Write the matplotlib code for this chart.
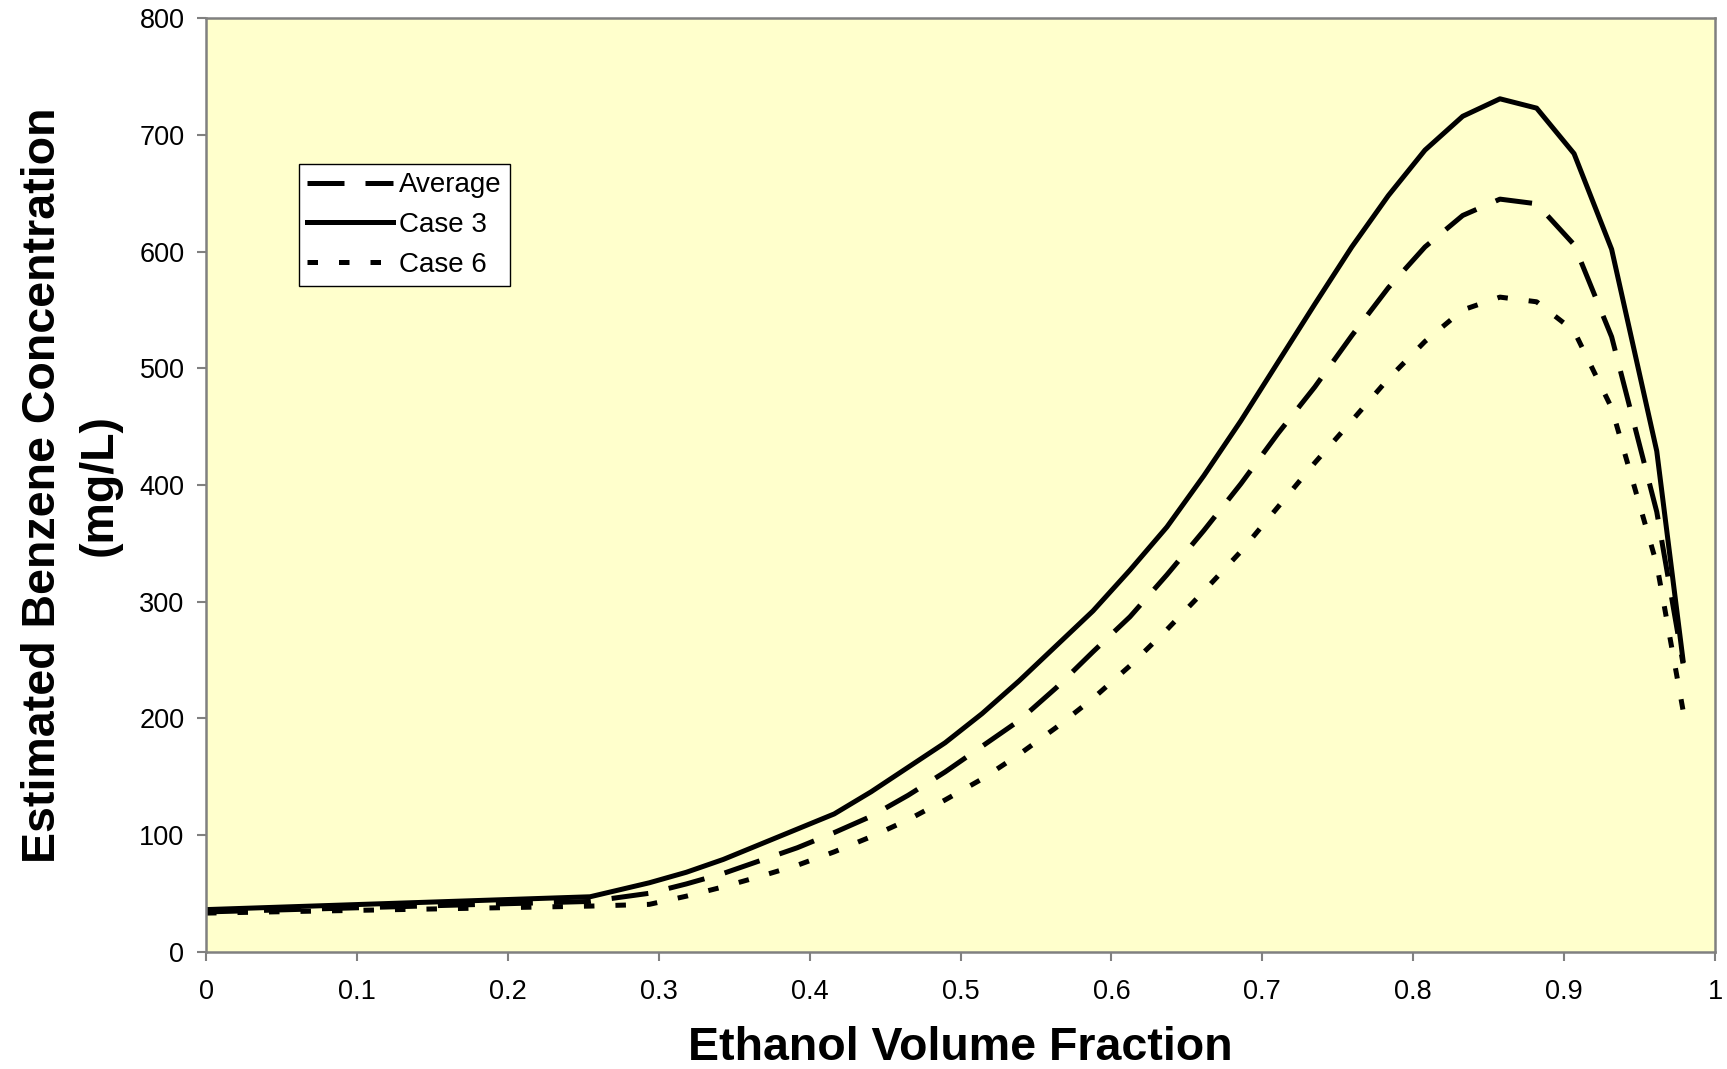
import numpy as np
import matplotlib
matplotlib.use('Agg')
import matplotlib.pyplot as plt

plt.rcParams['font.family'] = ['Liberation Sans', 'DejaVu Sans']

# ethanol volume fraction (x) and estimated benzene concentration (mg/L)
ethanol_frac = [0.0, 0.2545, 0.2938, 0.3183, 0.3428, 0.3673, 0.3918, 0.4163,
                0.4408, 0.4653, 0.4898, 0.5143, 0.5388, 0.5633, 0.5878, 0.6123,
                0.6368, 0.6613, 0.6858, 0.7103, 0.7348, 0.7593, 0.7835, 0.8078,
                0.8328, 0.8575, 0.8818, 0.9066, 0.9315, 0.9614, 0.9788]

average = [34, 43, 50, 58, 67, 78, 89, 102,
           116, 134, 154, 176, 198, 226, 257, 287,
           323, 361, 401, 444, 484, 528, 569, 604,
           631, 645, 641, 606, 527, 377, 247]

case3 = [36, 47, 59, 68, 79, 92, 105, 118,
         137, 158, 179, 204, 232, 262, 292, 327,
         364, 408, 455, 505, 555, 604, 648, 687,
         716, 731, 723, 684, 602, 429, 250]

case6 = [33, 39, 40.5, 47.5, 55.5, 64.5, 74, 85.5,
         98.5, 113, 130, 148, 169, 192, 217, 245,
         276, 309, 343, 381, 419, 455, 491, 523,
         550, 561, 557, 532, 466, 332, 207]

W, H = 1727, 1069
fig = plt.figure(figsize=(W / 100, H / 100), dpi=100)
ax = fig.add_axes([206 / W, 1 - 951.6 / H, (1715 - 206) / W, (951.6 - 18.3) / H])
ax.set_facecolor('#FFFFCC')

lw = 3.6
ax.plot(ethanol_frac, average, color='black', lw=lw, dashes=(7.4, 4.2), label='Average')
ax.plot(ethanol_frac, case3, color='black', lw=lw, label='Case 3')
ax.plot(ethanol_frac, case6, color='black', lw=lw, dashes=(2.1, 4.2), label='Case 6')

ax.set_xlim(0, 1)
ax.set_ylim(0, 800)
ax.set_xticks(np.arange(0, 1.01, 0.1))
ax.set_xticklabels(['0', '0.1', '0.2', '0.3', '0.4', '0.5', '0.6', '0.7', '0.8', '0.9', '1'])
ax.set_yticks(np.arange(0, 801, 100))

for s in ax.spines.values():
    s.set_color('#808080')
    s.set_linewidth(1.8)
ax.tick_params(axis='both', direction='out', length=6.5, width=1.5, color='#808080',
               labelsize=19.5, labelcolor='black')
ax.tick_params(axis='x', pad=13)
ax.tick_params(axis='y', pad=9)

ax.set_xlabel('Ethanol Volume Fraction', fontsize=33.5, fontweight='bold', labelpad=15)
ax.set_ylabel('Estimated Benzene Concentration\n(mg/L)', fontsize=33.5,
              fontweight='bold', labelpad=13, linespacing=1.36)

leg = ax.legend(loc='upper left', bbox_to_anchor=(0.0616, 0.8439), fontsize=20,
                fancybox=False, framealpha=1, edgecolor='black', handlelength=3.1,
                handletextpad=0.2, borderpad=0.3, labelspacing=0.5, borderaxespad=0)
leg.get_frame().set_linewidth(1.0)

fig.savefig('out.png', dpi=100)
